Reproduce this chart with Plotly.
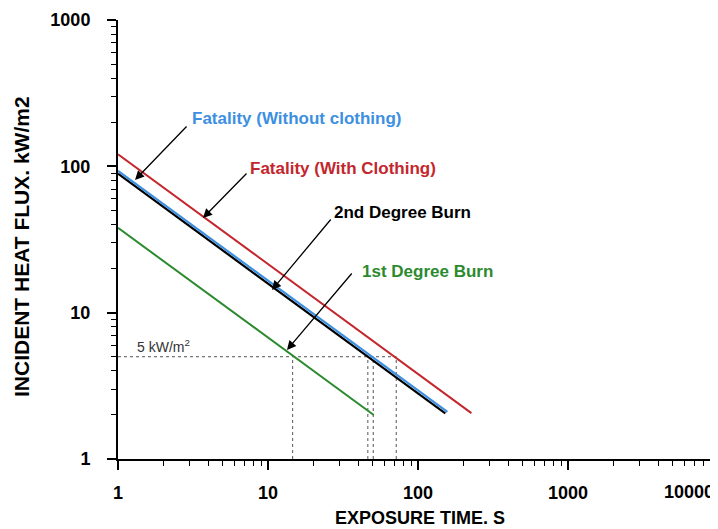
import plotly.graph_objects as go

# ---- data ----
red_t = [1, 227]
red_q = [121, 2.06]
blue_t = [1, 157]
blue_q = [93, 2.1]
black_t = [1, 152]
black_q = [89, 2.05]
green_t = [1, 50.7]
green_q = [38, 2.0]

threshold_q = 5
cross_t = [14.6, 46.3, 50.3, 71.6]

x_tickvals = [1, 10, 100, 1000, 10000]
x_ticktext = ["1", "10", "100", "1000", "10000"]
y_tickvals = [1, 10, 100, 1000]
y_ticktext = ["1", "10", "100", "1000"]

RED = "#c3272d"
BLUE = "#3d8fe0"
BLACK = "#000000"
GREEN = "#2b8a2e"
FONT = "Liberation Sans, Arial, sans-serif"

fig = go.Figure()

# dotted reference lines
fig.add_trace(go.Scatter(x=[1, max(cross_t)], y=[threshold_q, threshold_q], mode="lines",
                         line=dict(color="#555555", width=1, dash="dot"), hoverinfo="skip"))
for t in cross_t:
    fig.add_trace(go.Scatter(x=[t, t], y=[1, threshold_q], mode="lines",
                             line=dict(color="#555555", width=1, dash="dot"), hoverinfo="skip"))

fig.add_trace(go.Scatter(x=red_t, y=red_q, mode="lines", line=dict(color=RED, width=2)))
fig.add_trace(go.Scatter(x=green_t, y=green_q, mode="lines", line=dict(color=GREEN, width=2)))
fig.add_trace(go.Scatter(x=black_t, y=black_q, mode="lines", line=dict(color=BLACK, width=2.2)))
fig.add_trace(go.Scatter(x=blue_t, y=blue_q, mode="lines", line=dict(color=BLUE, width=2.2)))

minor_x = [m * 10 ** k for k in range(4) for m in range(2, 10)]
minor_y = [m * 10 ** k for k in range(3) for m in range(2, 10)]

TICKFONT = dict(family=FONT, size=18, color="black", weight="bold")
axis_common = dict(type="log", showgrid=False, zeroline=False, showline=True,
                   linecolor="black", linewidth=2, ticks="outside", ticklen=9,
                   tickwidth=1.5, tickcolor="black", automargin=False,
                   tickfont=TICKFONT)

# last x tick label sits against the right edge of the page, drawn as annotation below
x_ticktext_axis = x_ticktext[:-1] + [""]

fig.update_xaxes(range=[0, 4], tickvals=x_tickvals, ticktext=x_ticktext_axis,
                 ticklabelstandoff=7,
                 minor=dict(tickvals=minor_x, ticks="outside", ticklen=5,
                            tickwidth=1.2, tickcolor="black"),
                 **axis_common)
fig.update_yaxes(range=[0, 3], tickvals=y_tickvals, ticktext=y_ticktext,
                 ticklabelstandoff=13,
                 minor=dict(tickvals=minor_y, ticks="outside", ticklen=5,
                            tickwidth=1.2, tickcolor="black"),
                 **axis_common)

# page body has an 8px margin: figure is offset by OFF px in the window
OFF = 8
W, H = 718 - OFF, 529 - OFF
L, R, T = 118 - OFF, 0, 20 - OFF
B = H - (459 - OFF)
pw, ph = W - L - R, H - T - B


def px(xp):
    # xp: window pixel in reference
    return (xp - OFF - L) / pw


def py(yp):
    return (H - B - (yp - OFF)) / ph


annotations = []
# labels
labels = [
    ("Fatality (Without clothing)", BLUE, 190, 118),
    ("Fatality (With Clothing)", RED, 248, 168),
    ("2nd Degree Burn", BLACK, 332, 212),
    ("1st Degree Burn", GREEN, 360, 271),
]
for txt, col, xl, yc in labels:
    annotations.append(dict(text=txt, xref="paper", yref="paper", x=px(xl), y=py(yc),
                            xanchor="left", yanchor="middle", showarrow=False,
                            font=dict(family=FONT, size=17, color=col, weight="bold")))

# arrows: head position (pixels) and tail offset
arrows = [(135, 180, 53, -55), (203, 218, 45, -46), (272, 290, 60, -72), (287, 350, 66, -78)]
for hx, hy, ax, ay in arrows:
    annotations.append(dict(text="", xref="paper", yref="paper", x=px(hx), y=py(hy),
                            ax=ax, ay=ay, showarrow=True, arrowhead=2, arrowsize=1.4,
                            arrowwidth=1.3, arrowcolor="black", standoff=0))

annotations.append(dict(text="5 kW/m<sup>2</sup>", xref="paper", yref="paper",
                        x=px(135), y=py(346), xanchor="left", yanchor="middle",
                        showarrow=False, font=dict(family=FONT, size=14, color="#333333")))

# right-most x tick label, pushed inside the page edge
annotations.append(dict(text=x_ticktext[-1], xref="paper", yref="paper",
                        x=px(716), y=py(492), xanchor="right", yanchor="middle",
                        showarrow=False, font=TICKFONT))

# axis titles
annotations.append(dict(text="EXPOSURE TIME. S", xref="paper", yref="paper",
                        x=px(420), y=py(518), xanchor="center", yanchor="middle",
                        showarrow=False,
                        font=dict(family=FONT, size=18, color="black", weight="bold")))
annotations.append(dict(text="INCIDENT HEAT FLUX. kW/m2", xref="paper", yref="paper",
                        x=px(21), y=py(247), xanchor="center", yanchor="middle",
                        textangle=-90, showarrow=False,
                        font=dict(family=FONT, size=21, color="black", weight="bold")))

fig.update_layout(width=W, height=H, margin=dict(l=L, r=R, t=T, b=B),
                  paper_bgcolor="white", plot_bgcolor="white", showlegend=False,
                  annotations=annotations)

fig.write_html("out.html")
